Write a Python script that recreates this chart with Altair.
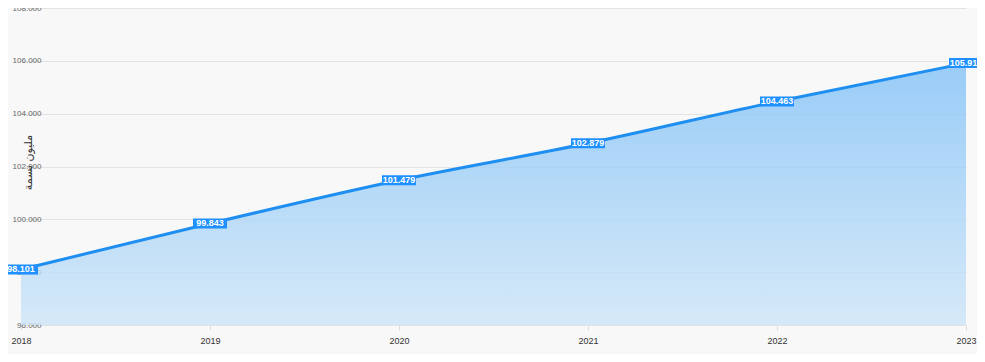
import altair as alt
import pandas as pd

years = ["2018", "2019", "2020", "2021", "2022", "2023"]
population = [98.101, 99.843, 101.479, 102.879, 104.463, 105.914]
y_ticks = [96, 98, 100, 102, 104, 106, 108]
y_title = "مليون نسمة"

df = pd.DataFrame({"year": years, "value": population})
df["label"] = [f"{v:.3f}" for v in population]

x_enc = alt.X(
    "year:O",
    scale=alt.Scale(type="point", padding=0),
    axis=alt.Axis(
        title=None, labelAngle=0, labelFontSize=9, labelColor="#333333",
        labelFont="Liberation Sans", tickColor="#dddddd", tickSize=5,
        labelPadding=6, domainColor="#e2e2e2", grid=False,
    ),
)
y_scale = alt.Scale(domain=[96, 108], zero=False, nice=False)
y_enc = alt.Y(
    "value:Q",
    scale=y_scale,
    axis=alt.Axis(
        values=y_ticks, format=".3f", title=y_title, labelFontSize=8,
        labelColor="#666666", labelFont="Liberation Sans", tickSize=0,
        labelPadding=-20, labelAlign="right", domain=False,
        gridColor="#e3e3e3", titleAngle=-90, titleX=7,
        titleY=154, titleAlign="center", titleBaseline="middle",
        titleFontSize=11, titleFont="DejaVu Sans", titleFontWeight="normal",
        titleColor="#333333",
    ),
)

base = alt.Chart(df)

area = base.mark_area(
    interpolate="monotone",
    opacity=0.8,
    color=alt.Gradient(
        gradient="linear",
        stops=[alt.GradientStop(color="#81c1f7", offset=0),
               alt.GradientStop(color="#cde5f8", offset=1)],
        x1=0, x2=0, y1=0, y2=1,
    ),
).encode(x=x_enc, y=y_enc, y2=alt.datum(96))

line = base.mark_line(interpolate="monotone", color="#1e8ff0", strokeWidth=3).encode(
    x=x_enc, y=y_enc
)

boxes = base.mark_rect(
    color="#1e90ff", xOffset=-17, x2Offset=17, yOffset=-5, y2Offset=5
).encode(x="year:O", x2="year:O", y="value:Q", y2="value:Q")

texts = base.mark_text(
    color="white", fontSize=9, fontWeight="bold", font="Liberation Sans",
    align="center", baseline="middle",
).encode(x="year:O", y="value:Q", text="label:N")

chart = alt.layer(area, line, boxes, texts).properties(
    width=945, height=317,
    autosize=alt.AutoSizeParams(type="none"),
    padding={"left": 13, "top": 0, "right": 11, "bottom": 29},
    background="#f8f8f8",
).configure_view(stroke=None)

chart.save("out.html", embed_options={"renderer": "svg", "actions": False})
